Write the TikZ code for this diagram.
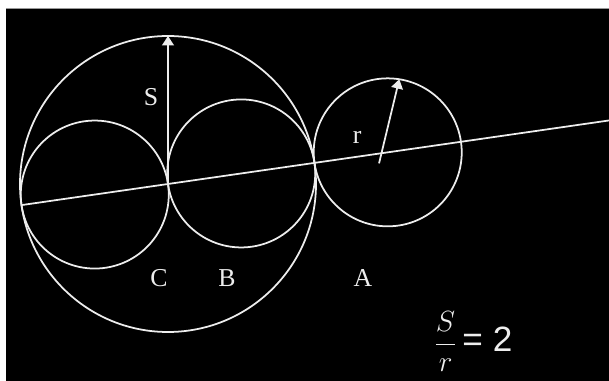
\documentclass[tikz,border=0pt]{standalone}
\usepackage{fontspec}
\setmainfont{Liberation Serif}
\newfontfamily\ratiofont{Liberation Sans}
\usetikzlibrary{arrows.meta, calc}
\definecolor{chalk}{gray}{0.93}

\begin{document}
\begin{tikzpicture}[
    font=\fontsize{22}{26}\selectfont,
    ring/.style={
        circle, draw=chalk, line width=1.5pt,
        inner sep=0pt, outer sep=0pt
    },
    smallring/.style={ring, minimum size=44.4mm},
    bigring/.style={ring, minimum size=88.8mm},
    spoke/.style={
        draw=chalk, line width=1.5pt,
        -{Triangle[width=10pt,length=8pt]}
    },
    slant/.style={draw=chalk, line width=1.5pt},
    letter/.style={text=chalk, inner sep=0pt}
]

% ---- Tight bounding box and the black screen ----
\useasboundingbox (0,0) rectangle (18.27,11.43);
\fill[black] (0.18,0) rectangle (18.27,11.19);
\draw[black!40, line width=0.6pt] (0.18,11.19) -- (18.27,11.19);

% ---- Centres: all on one slanted line through the big circle ----
\coordinate (P)  at (5.04,5.91);          % big circle, radius S
\coordinate (cC) at ($(P)+(188.2:2.22)$); % C
\coordinate (cB) at ($(P)+(8.2:2.22)$);   % B
\coordinate (cA) at ($(P)+(8.2:6.66)$);   % A

% ---- The circles ----
\node[bigring]   (circS) at (P)  {};
\node[smallring] (circC) at (cC) {};
\node[smallring] (circB) at (cB) {};
\node[smallring] (circA) at (cA) {};

% ---- The line of centres, out to the right edge ----
\coordinate (lstart)  at ($(P)+(188.2:4.44)$);
\coordinate (lineend) at ($(P)+(8.2:13.37)$);
\draw[slant] (lstart) -- (lineend);

% ---- Radii S and r ----
\draw[spoke] (P) -- (circS.north);
\coordinate (rfoot) at ($(cA)+(-0.26,-0.33)$);
\draw[spoke] (rfoot) -- (circA.81);

% ---- Letters ----
\node[letter] (labS) at ($(P)+(-0.51,2.61)$)  {S};
\node[letter] (labr) at ($(cA)+(-0.92,0.45)$) {r};
\node[letter] (labC) at (4.77,3.09)  {C};
\node[letter] (labB) at (6.81,3.09)  {B};
\node[letter] (labA) at (10.89,3.09) {A};

% ---- The ratio ----
\node[letter, anchor=base west, font=\fontsize{30}{34}\selectfont] (ratio)
     at (13.03,0.88) {$\displaystyle\frac{S}{r}$\,{\ratiofont= 2}};

\end{tikzpicture}
\end{document}
